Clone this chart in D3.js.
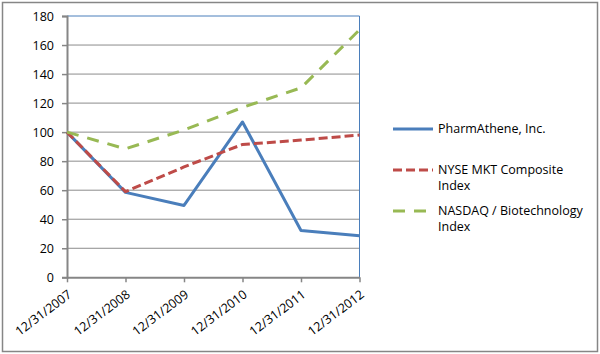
<!DOCTYPE html>
<html>
<head>
<meta charset="utf-8">
<script src="https://cdn.jsdelivr.net/npm/d3@7"></script>
<style>
  body { margin: 0; background: #fff; }
  text { font-family: "Open Sans", "Noto Sans", sans-serif; fill: #000; }
</style>
</head>
<body>
<div id="chart"></div>
<script>
// data
const dates = ["12/31/2007", "12/31/2008", "12/31/2009", "12/31/2010", "12/31/2011", "12/31/2012"];
const pharmAthene = [100, 58.5, 49.5, 107, 32.2, 28.7];
const nyseMkt = [100, 59, 76, 91.5, 94.5, 98];
const nasdaqBio = [100, 88.5, 101.5, 117, 130.5, 170.5];
const yTicks = [0, 20, 40, 60, 80, 100, 120, 140, 160, 180];

const series = [
  {name: ["PharmAthene, Inc."], values: pharmAthene, color: "#4A7EBB", dash: null},
  {name: ["NYSE MKT Composite", "Index"], values: nyseMkt, color: "#BE4B48", dash: "9,4"},
  {name: ["NASDAQ / Biotechnology", "Index"], values: nasdaqBio, color: "#98B954", dash: "12,9"}
];

const width = 600, height = 354;
const margin = {top: 16, left: 67};
const innerWidth = 292.5, innerHeight = 261.3;

const svg = d3.select("#chart").append("svg")
  .attr("width", width)
  .attr("height", height);

// outer frame
svg.append("rect")
  .attr("x", 2.5).attr("y", 2.5)
  .attr("width", 595).attr("height", 349)
  .attr("fill", "#fff")
  .attr("stroke", "#868686")
  .attr("stroke-width", 1.5);

const xScale = d3.scalePoint()
  .domain(dates)
  .range([0, innerWidth]);

const yScale = d3.scaleLinear()
  .domain([0, 180])
  .range([innerHeight, 0]);

const g = svg.append("g")
  .attr("transform", `translate(${margin.left},${margin.top})`);

// gridlines
g.append("g").selectAll("line").data(yTicks.filter(d => d > 0 && d < 180))
  .enter().append("line")
  .attr("x1", 0).attr("x2", innerWidth)
  .attr("y1", d => yScale(d)).attr("y2", d => yScale(d))
  .attr("stroke", "#8c8c8c").attr("stroke-width", 1);

// plot border top / right
g.append("path")
  .attr("d", `M0,${yScale(180)}H${innerWidth}V${innerHeight}`)
  .attr("fill", "none")
  .attr("stroke", "#4A7EBB").attr("stroke-width", 1);

// y axis
const yAxis = g.append("g").call(d3.axisLeft(yScale).tickValues(yTicks).tickSize(5).tickPadding(8));
yAxis.select(".domain").attr("stroke", "#868686").attr("stroke-width", 2);
yAxis.selectAll(".tick line").attr("stroke", "#868686").attr("stroke-width", 1.5);
yAxis.selectAll(".tick text").attr("font-size", 12.5).attr("font-family", "Open Sans").attr("fill", "#000");

// x axis
const xAxis = g.append("g")
  .attr("transform", `translate(0,${innerHeight})`)
  .call(d3.axisBottom(xScale).tickSize(5).tickSizeOuter(0));
xAxis.select(".domain").attr("stroke", "#868686").attr("stroke-width", 2);
xAxis.selectAll(".tick line").attr("stroke", "#868686").attr("stroke-width", 1.5);
xAxis.selectAll(".tick text")
  .attr("font-size", 12.5).attr("font-family", "Open Sans").attr("fill", "#000")
  .attr("text-anchor", "end")
  .attr("y", 0)
  .attr("dy", null)
  .attr("transform", "translate(5,19) rotate(-37)");

// lines
const line = d3.line()
  .x((d, i) => xScale(dates[i]))
  .y(d => yScale(d));

g.selectAll(".series").data(series).enter().append("path")
  .attr("class", "series")
  .attr("d", d => line(d.values))
  .attr("fill", "none")
  .attr("stroke", d => d.color)
  .attr("stroke-width", 3)
  .attr("stroke-dasharray", d => d.dash)
  .attr("stroke-linejoin", "round");

// legend
const legendY = [129, 170, 211];
const legend = svg.append("g").selectAll("g").data(series).enter().append("g")
  .attr("transform", (d, i) => `translate(393,${legendY[i]})`);

legend.append("line")
  .attr("x1", 0).attr("x2", 40).attr("y1", 0).attr("y2", 0)
  .attr("stroke", d => d.color)
  .attr("stroke-width", 3)
  .attr("stroke-dasharray", d => d.dash);

legend.append("text")
  .attr("x", 45)
  .attr("font-size", 12.5)
  .selectAll("tspan").data(d => d.name).enter().append("tspan")
  .attr("x", 45)
  .attr("y", (d, i) => i * 16)
  .attr("dy", "0.35em")
  .text(d => d);
</script>
</body>
</html>
